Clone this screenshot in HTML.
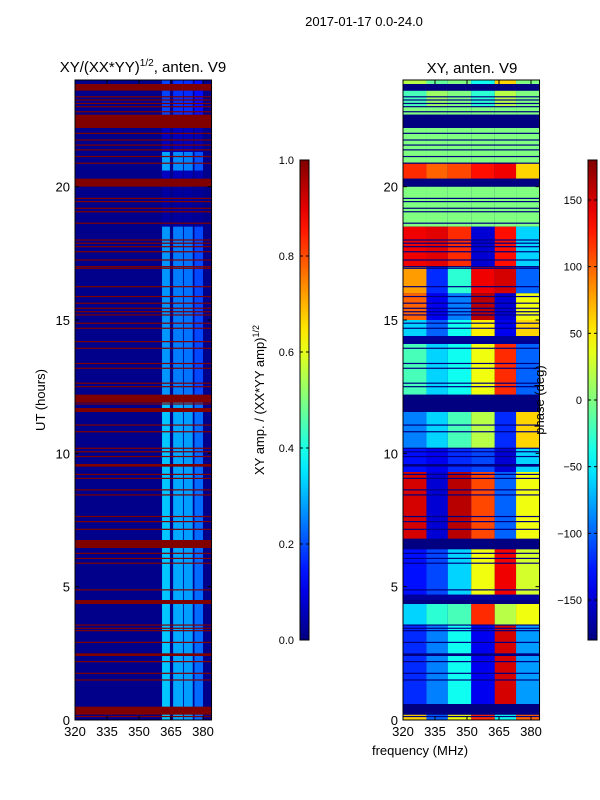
<!DOCTYPE html>
<html><head><meta charset="utf-8">
<style>
html,body{margin:0;padding:0;background:#fff;}
svg{display:block;font-family:"Liberation Sans","DejaVu Sans",sans-serif;}
</style></head>
<body>
<svg id="fig" width="600" height="800" viewBox="0 0 600 800" xmlns="http://www.w3.org/2000/svg">
<text x="364" y="26" font-size="13" text-anchor="middle">2017-01-17 0.0-24.0</text>
<text x="143" y="72" font-size="15" text-anchor="middle">XY/(XX*YY)<tspan font-size="10" dy="-6">1/2</tspan><tspan dy="6">, anten. V9</tspan></text>
<text x="472" y="73" font-size="15" text-anchor="middle">XY, anten. V9</text>
<text transform="translate(45,400) rotate(-90)" font-size="13" text-anchor="middle">UT (hours)</text>
<text x="420" y="755" font-size="13" text-anchor="middle">frequency (MHz)</text>
<text transform="translate(264,400) rotate(-90)" font-size="13" text-anchor="middle">XY amp. / (XX*YY amp)<tspan font-size="9" dy="-5">1/2</tspan></text>
<g id="left"></g>
<g id="right"></g>
<g id="cb1"></g>
<g id="cb2"></g>
<text transform="translate(544,400) rotate(-90)" font-size="13" text-anchor="middle">phase (deg)</text>
</svg>
<script>
// ---- data ----
const xTicks = [320, 335, 350, 365, 380];
const yTicks = [0, 5, 10, 15, 20];
const ampTicks = [0.0, 0.2, 0.4, 0.6, 0.8, 1.0];
const phaseTicks = [-150, -100, -50, 0, 50, 100, 150];
// flagged intervals (hours)
const flagStart = [23.6, 22.2, 20.0, 11.9, 11.55, 9.5, 6.45, 4.35, 2.4, 0.2];
const flagEnd   = [23.85, 22.7, 20.3, 12.2, 11.7, 9.6, 6.75, 4.5, 2.5, 0.5];
// thin flagged lines (hours)
const flagLines = [23.37,23.25,23.12,23.0,22.81,22.0,21.75,21.56,21.38,21.13,20.88,19.56,19.44,19.19,19.06,18.63,18.0,17.88,17.75,17.56,17.25,17.0,16.94,16.25,15.88,15.63,15.44,15.31,15.19,14.88,14.69,14.19,13.94,13.37,13.19,12.63,12.5,11.85,11.06,10.81,10.19,10.06,9.88,9.21,9.06,8.63,8.44,7.63,7.44,7.15,6.25,6.06,5.88,4.88,3.56,3.44,3.35,2.91,2.19,1.75,1.5,0.13];
// amplitude: bright frequency columns
const ampColStart = [360.8, 366.0, 371.0, 376.0];
const ampColEnd   = [364.5, 370.6, 375.2, 380.0];
const ampColVal   = [0.32, 0.29, 0.28, 0.23];
const ampBase = 0.01;
const ampSegStart = [22.2, 21.3, 20.6, 20.3, 18.5, 12.2, 0];
const ampSegEnd   = [24, 22.2, 21.3, 20.6, 20.3, 18.5, 12.2];
const ampSegScale = [0.6, 0.2, 0.9, 0.2, 0.1, 0.85, 1.0];
// phase: segments x 6 frequency bands
const phaseBands = [320, 331, 341, 352, 363, 373, 384];
const phSegStart = [23.85, 23.0, 22.7, 20.9, 20.3, 18.5, 17.0, 16.0, 15.0, 14.4, 14.1, 12.2, 10.2, 9.3, 6.8, 4.7, 4.4, 3.55, 0.6, 0];
const phSegEnd   = [24, 23.6, 23.0, 22.2, 20.9, 20.0, 18.5, 17.0, 16.0, 15.0, 14.4, 14.1, 11.6, 10.2, 9.3, 6.4, 4.7, 4.4, 3.55, 0.2];
const phaseVals = [
 [20, -10, 0, -40, 60, 0],
 [-20, 10, 0, -30, 20, 0],
 [0, 0, 0, 0, 0, 0],
 [0, 0, 0, 0, 0, 0],
 [120, 100, 110, 130, 140, 60],
 [0, 0, 0, 0, 0, 0],
 [140, 145, 120, -150, 130, -60],
 [80, -120, -30, 140, 150, -100],
 [100, -140, -90, 160, -150, 40],
 [-60, -100, -40, 50, -140, 60],
 [-170, -170, -170, -170, -170, -170],
 [-20, -60, -40, 40, 120, -100],
 [-90, -60, -20, 20, -120, 60],
 [-130, -140, -120, -110, -150, -60],
 [150, -150, 160, 110, -100, 40],
 [-130, -110, -60, 40, 140, 30],
 [-170, -170, -170, -170, -170, -170],
 [-60, -30, -20, 120, 20, 40],
 [-120, -90, -40, -140, 150, -80],
 [60, -100, 40, 120, -40, 100]
];
// ---- helpers ----
const NS = "http://www.w3.org/2000/svg";
function jet(v){
  v = Math.max(0, Math.min(1, v));
  const c = (x)=>Math.max(0, Math.min(1, x));
  const r = c(Math.min(4*v-1.5, -4*v+4.5));
  const g = c(Math.min(4*v-0.5, -4*v+3.5));
  const b = c(Math.min(4*v+0.5, -4*v+2.5));
  return `rgb(${Math.round(r*255)},${Math.round(g*255)},${Math.round(b*255)})`;
}
function el(parent, tag, attrs){
  const e = document.createElementNS(NS, tag);
  for (const k in attrs) e.setAttribute(k, attrs[k]);
  parent.appendChild(e);
  return e;
}
const T = 80, B = 720;
function yScale(t){ return T + (24 - t) * (B - T) / 24; }
function makeX(x0){ return f => x0 + (f - 320) * (128 / 60); }
const xL = makeX(75), xR = makeX(403);
const F0 = 320, F1 = 384;

function drawAxes(g, xs, name){
  const x0 = xs(F0), x1 = xs(F1);
  const fr = el(g, 'rect', {x:x0, y:T, width:x1-x0, height:B-T, fill:'none', stroke:'#000', 'stroke-width':1});
  
  
  xTicks.forEach(v=>{
    const x = xs(v);
    el(g,'line',{x1:x,x2:x,y1:B,y2:B-4,stroke:'#000'});
    el(g,'line',{x1:x,x2:x,y1:T,y2:T+4,stroke:'#000'});
    const t = el(g,'text',{x:x,y:B+16,'font-size':13,'text-anchor':'middle'});
    t.textContent = v;
    
    
  });
  yTicks.forEach(v=>{
    const y = yScale(v);
    el(g,'line',{x1:x0,x2:x0+4,y1:y,y2:y,stroke:'#000'});
    el(g,'line',{x1:x1,x2:x1-4,y1:y,y2:y,stroke:'#000'});
    const t = el(g,'text',{x:x0-5,y:y+5,'font-size':13,'text-anchor':'end'});
    t.textContent = v;
    
    
  });
}

// ---- left heatmap ----
const gl = document.getElementById('left');
el(gl,'rect',{x:xL(F0),y:T,width:xL(F1)-xL(F0),height:B-T,fill:jet(ampBase)});
ampSegStart.forEach((s,i)=>{
  ampColStart.forEach((c,j)=>{
    const r = el(gl,'rect',{x:xL(c),y:yScale(ampSegEnd[i]),width:xL(ampColEnd[j])-xL(c),height:yScale(s)-yScale(ampSegEnd[i]),fill:jet(ampColVal[j]*ampSegScale[i])});
    
    
  });
});
function drawFlags(g, xs, color){
  flagStart.forEach((s,i)=>{
    const r = el(g,'rect',{x:xs(F0),y:yScale(flagEnd[i]),width:xs(F1)-xs(F0),height:yScale(s)-yScale(flagEnd[i]),fill:color});
    
    
  });
  flagLines.forEach(t=>{
    const r = el(g,'rect',{x:xs(F0),y:yScale(t)-0.6,width:xs(F1)-xs(F0),height:1.2,fill:color});
    
    
  });
}
drawFlags(gl, xL, jet(1));
drawAxes(gl, xL, 'left-axes');

// ---- right heatmap ----
const gr = document.getElementById('right');
el(gr,'rect',{x:xR(F0),y:T,width:xR(F1)-xR(F0),height:B-T,fill:jet(0)});
phSegStart.forEach((s,i)=>{
  phaseVals[i].forEach((p,j)=>{
    const r = el(gr,'rect',{x:xR(phaseBands[j]),y:yScale(phSegEnd[i]),width:xR(phaseBands[j+1])-xR(phaseBands[j]),height:yScale(s)-yScale(phSegEnd[i]),fill:jet((p+180)/360)});
    
    
  });
});
drawFlags(gr, xR, jet(0));
drawAxes(gr, xR, 'right-axes');

// ---- colorbars ----
function colorbar(g, x, w, ticks, lo, hi, id){
  const defs = el(g,'defs',{});
  const lg = el(defs,'linearGradient',{id:id,x1:0,y1:1,x2:0,y2:0});
  for (let i=0;i<=20;i++) el(lg,'stop',{offset:i/20,'stop-color':jet(i/20)});
  const r = el(g,'rect',{x:x,y:160,width:w,height:480,fill:`url(#${id})`,stroke:'#000','stroke-width':1});
  
  
  ticks.forEach(v=>{
    const y = 640 - (v-lo)/(hi-lo)*480;
    el(g,'line',{x1:x,x2:x+3,y1:y,y2:y,stroke:'#000'});
    el(g,'line',{x1:x+w,x2:x+w-3,y1:y,y2:y,stroke:'#000'});
    const t = el(g,'text',{x:x-6,y:y+4,'font-size':11,'text-anchor':'end'});
    t.textContent = (lo===0) ? v.toFixed(1) : (v<0 ? '\u2212'+(-v) : v);
    
    
  });
}
colorbar(document.getElementById('cb1'), 300, 9, ampTicks, 0, 1, 'g1');
colorbar(document.getElementById('cb2'), 588, 9, phaseTicks, -180, 180, 'g2');
</script>
</body></html>
